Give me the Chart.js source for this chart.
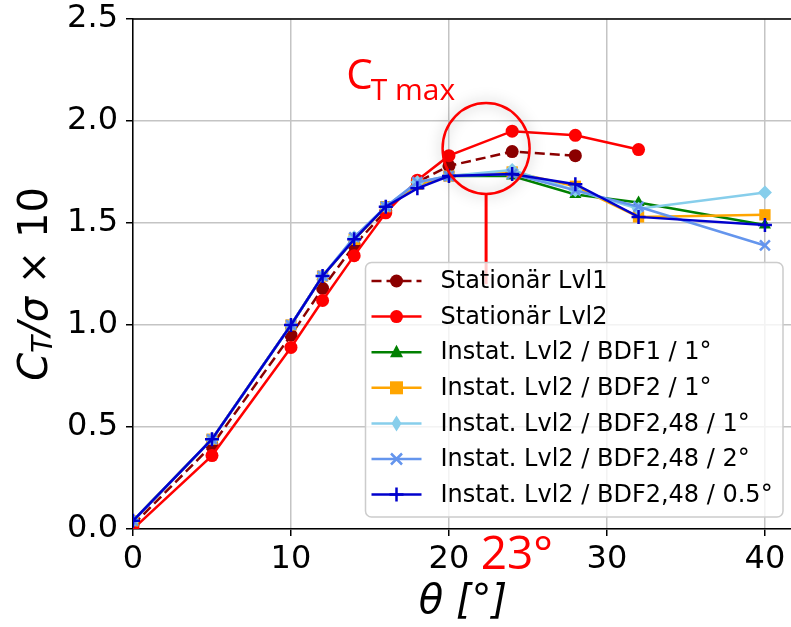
<!DOCTYPE html>
<html>
<head>
<meta charset="utf-8">
<script src="https://cdn.jsdelivr.net/npm/chart.js@4.4.1/dist/chart.umd.min.js"></script>
<style>
  html, body { margin: 0; padding: 0; background: #fff; }
  #wrap { width: 791px; height: 627px; }
</style>
</head>
<body>
<div id="wrap"><canvas id="ctChart" width="791" height="627"></canvas></div>
<script>
// --- data ---
const thetaStat1 = [0, 5, 10, 12, 14, 16, 18, 20, 24, 28];
const thetaStat2 = [0, 5, 10, 12, 14, 16, 18, 20, 24, 28, 32];
const thetaInst = [0, 5, 10, 12, 14, 16, 18, 20, 24, 28, 32, 40];

const statLvl1 = [0.02, 0.41, 0.95, 1.18, 1.39, 1.56, 1.70, 1.78, 1.85, 1.83];
const statLvl2 = [0.00, 0.36, 0.89, 1.12, 1.34, 1.55, 1.71, 1.83, 1.95, 1.93, 1.86];
const instBdf1 = [0.04, 0.44, 1.00, 1.24, 1.42, 1.58, 1.69, 1.73, 1.73, 1.64, 1.60, 1.49];
const instBdf2 = [0.04, 0.44, 1.00, 1.24, 1.42, 1.58, 1.69, 1.73, 1.75, 1.68, 1.53, 1.54];
const instBdf248_1 = [0.04, 0.44, 1.00, 1.24, 1.43, 1.58, 1.70, 1.73, 1.76, 1.66, 1.57, 1.65];
const instBdf248_2 = [0.04, 0.44, 1.00, 1.24, 1.43, 1.58, 1.70, 1.73, 1.74, 1.66, 1.58, 1.39];
const instBdf248_05 = [0.04, 0.44, 1.00, 1.24, 1.42, 1.58, 1.67, 1.73, 1.74, 1.69, 1.53, 1.49];

const yTicks = [0, 0.5, 1.0, 1.5, 2.0, 2.5];
const xTicks = [0, 10, 20, 30, 40];

const pts = (xs, ys) => ys.map((v, i) => ({ x: xs[i], y: v }));

// series: label, data, color, marker, dash
const series = [
    { label: 'Stationär Lvl1', data: pts(thetaStat1, statLvl1), color: '#8b0000', marker: 'circle', dash: [10, 5] },
    { label: 'Stationär Lvl2', data: pts(thetaStat2, statLvl2), color: '#ff0000', marker: 'circle' },
    { label: 'Instat. Lvl2 / BDF1 / 1°', data: pts(thetaInst, instBdf1), color: '#008000', marker: 'triangle' },
    { label: 'Instat. Lvl2 / BDF2 / 1°', data: pts(thetaInst, instBdf2), color: '#ffa500', marker: 'rect' },
    { label: 'Instat. Lvl2 / BDF2,48 / 1°', data: pts(thetaInst, instBdf248_1), color: '#87ceeb', marker: 'rectRot' },
    { label: 'Instat. Lvl2 / BDF2,48 / 2°', data: pts(thetaInst, instBdf248_2), color: '#6495ed', marker: 'crossRot' },
    { label: 'Instat. Lvl2 / BDF2,48 / 0.5°', data: pts(thetaInst, instBdf248_05), color: '#0000cd', marker: 'cross' }
];

const radiusFor = m => (m === 'rect' ? 8 : m === 'circle' ? 6.5 : 7);

// own marker drawing for the legend box
function drawMarker(ctx, m, x, y, color) {
    ctx.save();
    ctx.fillStyle = color;
    ctx.strokeStyle = color;
    ctx.lineWidth = 2.5;
    ctx.beginPath();
    if (m === 'circle') {
        ctx.arc(x, y, 6.5, 0, Math.PI * 2);
        ctx.fill();
    } else if (m === 'triangle') {
        ctx.moveTo(x, y - 7.5); ctx.lineTo(x + 6.5, y + 5); ctx.lineTo(x - 6.5, y + 5);
        ctx.closePath(); ctx.fill();
    } else if (m === 'rect') {
        ctx.rect(x - 6.5, y - 6.5, 13, 13); ctx.fill();
    } else if (m === 'rectRot') {
        ctx.moveTo(x, y - 8); ctx.lineTo(x + 5, y); ctx.lineTo(x, y + 8); ctx.lineTo(x - 5, y);
        ctx.closePath(); ctx.fill();
    } else if (m === 'crossRot') {
        ctx.moveTo(x - 5.5, y - 5.5); ctx.lineTo(x + 5.5, y + 5.5);
        ctx.moveTo(x + 5.5, y - 5.5); ctx.lineTo(x - 5.5, y + 5.5); ctx.stroke();
    } else if (m === 'cross') {
        ctx.moveTo(x - 7, y); ctx.lineTo(x + 7, y);
        ctx.moveTo(x, y - 7); ctx.lineTo(x, y + 7); ctx.stroke();
    }
    ctx.restore();
}

// --- annotations, axis titles, legend ---
const decorations = {
    id: 'decorations',
    afterDatasetsDraw(chart) {
        const { ctx, chartArea: ca, scales: { x, y } } = chart;
        ctx.save();
        // top spine
        ctx.strokeStyle = '#000';
        ctx.lineWidth = 1.5;
        ctx.beginPath();
        ctx.moveTo(ca.left, ca.top); ctx.lineTo(ca.right, ca.top);
        ctx.stroke();

        // ellipse round the max with soft shadow
        const cx = x.getPixelForValue(22.35), cy = y.getPixelForValue(1.865);
        ctx.save();
        ctx.shadowColor = 'rgba(0,0,0,0.35)';
        ctx.shadowBlur = 14;
        ctx.strokeStyle = '#ff0000';
        ctx.lineWidth = 2.5;
        ctx.beginPath();
        ctx.ellipse(cx, cy, 43.5, 45.5, 0, 0, Math.PI * 2);
        ctx.stroke();
        ctx.restore();
        ctx.strokeStyle = '#ff0000';
        ctx.lineWidth = 3;
        ctx.beginPath();
        ctx.moveTo(cx, cy + 45.5); ctx.lineTo(cx, y.getPixelForValue(1.2));
        ctx.stroke();

        // C_T max label
        ctx.fillStyle = '#ff0000';
        ctx.textBaseline = 'alphabetic';
        ctx.textAlign = 'left';
        ctx.font = '42px "Open Sans"';
        const lx = x.getPixelForValue(13.5), ly = y.getPixelForValue(2.155);
        ctx.fillText('C', lx, ly);
        const cw = ctx.measureText('C').width;
        ctx.font = '30px "Open Sans"';
        ctx.fillText('T max', lx + cw - 2, ly + 11);

        // 23° under the axis
        ctx.font = '46px "Open Sans"';
        ctx.textAlign = 'center';
        ctx.fillText('23°', x.getPixelForValue(24.3), ca.bottom + 40);
        ctx.restore();

        // axis titles
        ctx.save();
        ctx.fillStyle = '#000';
        ctx.textBaseline = 'middle';
        ctx.translate(37, (ca.top + ca.bottom) / 2 + 10);
        ctx.rotate(-Math.PI / 2);
        const parts = [
            { t: 'C', f: 'italic 40px "DejaVu Sans"', dy: 0 },
            { t: 'T', f: 'italic 28px "DejaVu Sans"', dy: 8 },
            { t: '/', f: 'italic 40px "DejaVu Sans"', dy: 0 },
            { t: 'σ', f: 'italic 40px "DejaVu Sans"', dy: 0 },
            { t: ' × 10', f: '40px "DejaVu Sans"', dy: 0 }
        ];
        let total = 0;
        parts.forEach(p => { ctx.font = p.f; p.w = ctx.measureText(p.t).width; total += p.w; });
        let px = -total / 2;
        ctx.textAlign = 'left';
        parts.forEach(p => { ctx.font = p.f; ctx.fillText(p.t, px, p.dy); px += p.w; });
        ctx.restore();

        ctx.save();
        ctx.fillStyle = '#000';
        ctx.font = 'italic 40px "DejaVu Sans"';
        ctx.textAlign = 'center';
        ctx.textBaseline = 'middle';
        ctx.fillText('θ [°]', 463, 603);
        ctx.restore();

        // legend box
        const bx = 365.5, by = 262.5, bw = ca.right - 8 - bx, bh = ca.bottom - 12 - by;
        ctx.save();
        ctx.fillStyle = 'rgba(255,255,255,0.8)';
        ctx.strokeStyle = '#cccccc';
        ctx.lineWidth = 1.5;
        ctx.beginPath();
        ctx.roundRect(bx, by, bw, bh, 6);
        ctx.fill();
        ctx.stroke();
        ctx.font = '24px "DejaVu Sans"';
        ctx.textBaseline = 'middle';
        ctx.textAlign = 'left';
        series.forEach((s, i) => {
            const ry = by + 18.5 + i * 35.6;
            ctx.strokeStyle = s.color;
            ctx.lineWidth = 2.5;
            ctx.setLineDash(s.dash || []);
            ctx.beginPath();
            ctx.moveTo(bx + 6, ry); ctx.lineTo(bx + 56, ry);
            ctx.stroke();
            ctx.setLineDash([]);
            drawMarker(ctx, s.marker, bx + 31, ry, s.color);
            ctx.fillStyle = '#000';
            ctx.fillText(s.label, bx + 75, ry + 1);
        });
        ctx.restore();
    }
};

const noPad = s => { s.paddingLeft = 0; s.paddingRight = 0; s.paddingTop = 0; s.paddingBottom = 0; };

const ctx = document.getElementById('ctChart').getContext('2d');
new Chart(ctx, {
    type: 'scatter',
    data: {
        datasets: series.map((s, i) => ({
            label: s.label,
            data: s.data,
            showLine: true,
            borderColor: s.color,
            backgroundColor: s.color,
            borderWidth: 2.5,
            borderDash: s.dash || [],
            pointStyle: s.marker,
            pointRadius: radiusFor(s.marker),
            pointBorderWidth: (s.marker === 'cross' || s.marker === 'crossRot') ? 2.5 : 0,
            pointBorderColor: s.color,
            pointBackgroundColor: s.color,
            order: series.length - i
        }))
    },
    options: {
        responsive: false,
        animation: false,
        layout: { autoPadding: false, padding: { top: 19, right: 0, left: 0, bottom: 0 } },
        plugins: { legend: { display: false }, tooltip: { enabled: false } },
        scales: {
            x: {
                type: 'linear',
                min: 0,
                max: 41.65,
                afterBuildTicks: s => { s.ticks = xTicks.map(v => ({ value: v })); },
                afterFit: s => { s.height = 98; noPad(s); },
                ticks: { color: '#000', font: { family: 'DejaVu Sans', size: 32 }, padding: 4, maxRotation: 0 },
                grid: { color: '#c4c4c4', lineWidth: 1.5, tickColor: '#000', tickLength: 7 },
                border: { color: '#000', width: 1.5 }
            },
            y: {
                min: 0,
                max: 2.5,
                afterBuildTicks: s => { s.ticks = yTicks.map(v => ({ value: v })); },
                afterFit: s => { s.width = 133; noPad(s); },
                ticks: { color: '#000', font: { family: 'DejaVu Sans', size: 32 }, padding: 8, callback: v => v.toFixed(1) },
                grid: { color: '#c4c4c4', lineWidth: 1.5, tickColor: '#000', tickLength: 7 },
                border: { color: '#000', width: 1.5 }
            }
        }
    },
    plugins: [decorations]
});
</script>
</body>
</html>
